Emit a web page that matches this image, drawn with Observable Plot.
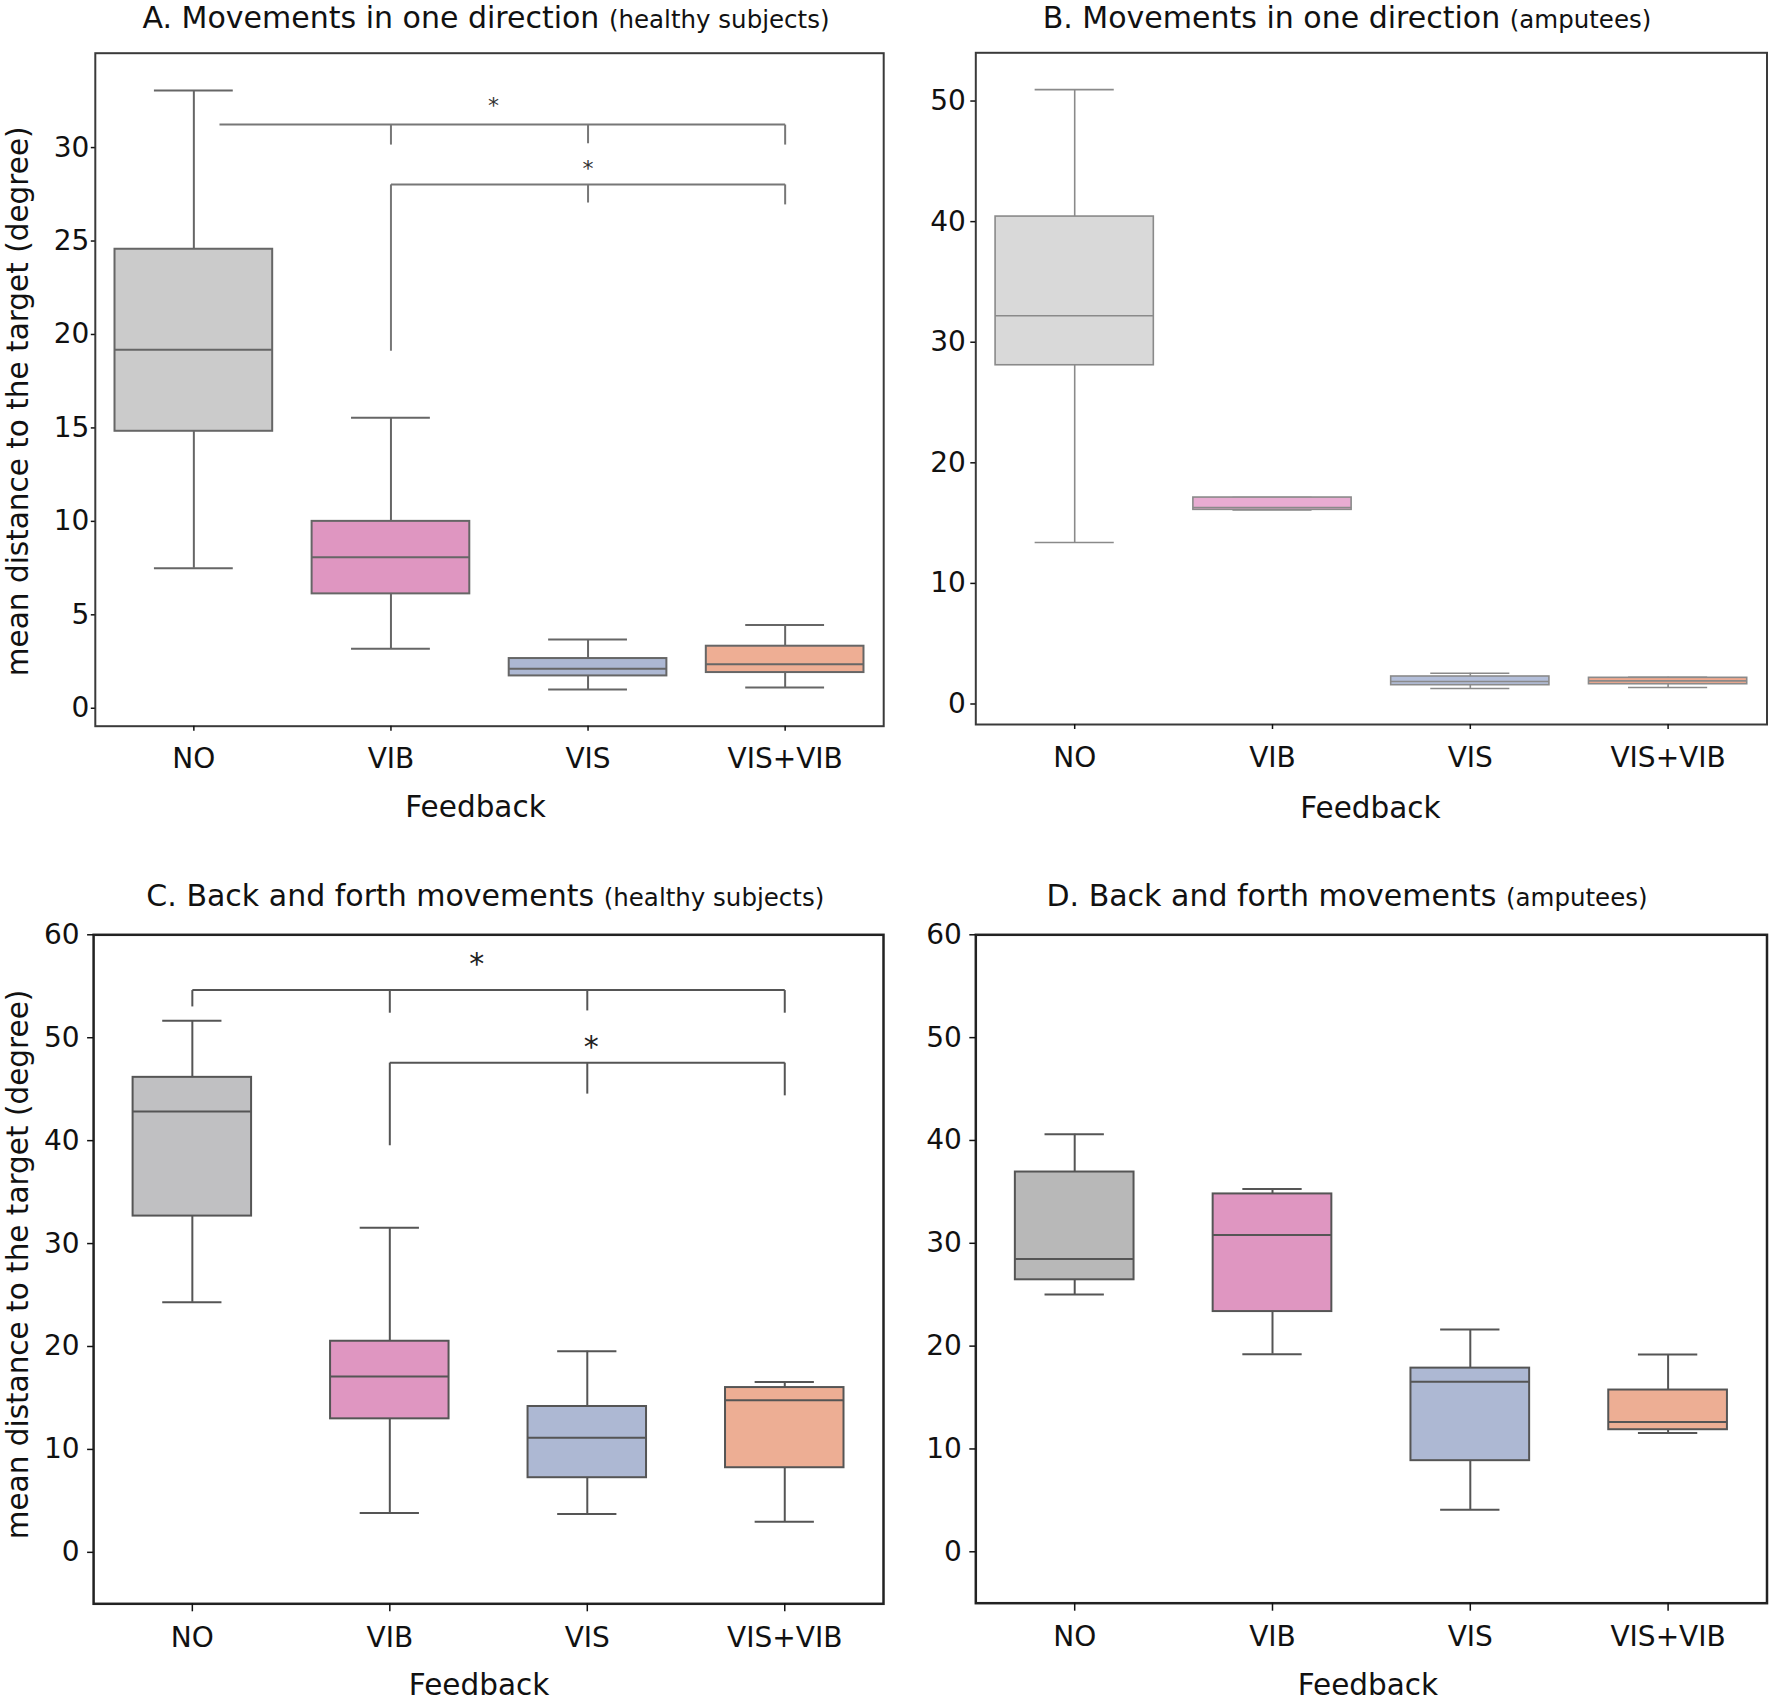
<!DOCTYPE html>
<html><head><meta charset="utf-8">
<script src="https://cdn.jsdelivr.net/npm/d3@7"></script>
<script src="https://cdn.jsdelivr.net/npm/@observablehq/plot@0.6"></script>
<style>
body{margin:0;background:#fff;}
#root{position:relative;width:1770px;height:1701px;background:#fff;overflow:hidden;font-family:"DejaVu Sans",sans-serif;}
.title{position:absolute;white-space:nowrap;text-align:center;width:900px;color:#111;font-family:"DejaVu Sans",sans-serif;font-size:30px;line-height:36px;}
.title .sub{font-size:24.5px;}
</style></head><body><div id="root"></div>
<script>
const categories = ["NO", "VIB", "VIS", "VIS+VIB"];

// Panel A: movements in one direction, healthy subjects
const aLow    = [7.49, 3.18, 1.00, 1.11];
const aQ1     = [14.82, 6.12, 1.73, 1.91];
const aMedian = [19.18, 8.08, 2.12, 2.35];
const aQ3     = [24.56, 10.00, 2.66, 3.32];
const aHigh   = [33.05, 15.54, 3.68, 4.46];
const aTicks  = [0, 5, 10, 15, 20, 25, 30];
const aBrackets = [
  [0.13, 31.23, 3, 31.23], [1, 31.23, 1, 30.16], [2, 31.23, 2, 30.23], [3, 31.23, 3, 30.16],
  [1, 28.03, 3, 28.03], [1, 28.03, 1, 19.13], [2, 28.03, 2, 27.06], [3, 28.03, 3, 26.96]
];
const aStars = [[1.52, 32.4], [2.0, 29.0]];

// Panel B: movements in one direction, amputees
const bLow    = [13.39, 16.10, 1.29, 1.37];
const bQ1     = [28.09, 16.10, 1.56, 1.64];
const bMedian = [32.19, 16.29, 1.87, 1.92];
const bQ3     = [40.42, 17.12, 2.28, 2.17];
const bHigh   = [50.95, 17.12, 2.55, 2.22];
const bTicks  = [0, 10, 20, 30, 40, 50];

// Panel C: back and forth movements, healthy subjects
const cLow    = [24.29, 3.82, 3.72, 2.98];
const cQ1     = [32.67, 12.97, 7.25, 8.22];
const cMedian = [42.82, 17.08, 11.13, 14.78];
const cQ3     = [46.15, 20.51, 14.17, 16.01];
const cHigh   = [51.65, 31.53, 19.54, 16.56];
const cTicks  = [0, 10, 20, 30, 40, 50, 60];
const cBrackets = [
  [0, 54.63, 3, 54.63], [0, 54.63, 0, 53.04], [1, 54.63, 1, 52.43], [2, 54.63, 2, 52.65], [3, 54.63, 3, 52.43],
  [1, 47.58, 3, 47.58], [1, 47.58, 1, 39.55], [2, 47.58, 2, 44.57], [3, 47.58, 3, 44.4]
];
const cStars = [[1.44, 57.5], [2.02, 49.48]];

// Panel D: back and forth movements, amputees
const dLow    = [25.02, 19.22, 4.08, 11.55];
const dQ1     = [26.45, 23.36, 8.86, 11.87];
const dMedian = [28.47, 30.80, 16.53, 12.62];
const dQ3     = [36.93, 34.80, 17.86, 15.73];
const dHigh   = [40.60, 35.28, 21.61, 19.18];
const dTicks  = [0, 10, 20, 30, 40, 50, 60];

const xLabel = "Feedback";
const yLabel = "mean distance to the target (degree)";
const titles = [
  ["A. Movements in one direction", "(healthy subjects)"],
  ["B. Movements in one direction", "(amputees)"],
  ["C. Back and forth movements", "(healthy subjects)"],
  ["D. Back and forth movements", "(amputees)"]
];

const fillsA = ["#cbcbcb", "#df96c1", "#adb8d3", "#eeae94"];
const fillsB = ["#d9d9d9", "#e8acd2", "#b3bed9", "#eea98f"];
const fillsC = ["#c0c0c2", "#df96c1", "#adb8d3", "#edae94"];
const fillsD = ["#b8b8b8", "#df96c1", "#adb8d3", "#edae94"];

const root = document.getElementById("root");

function addTitle(t, cx, baseline) {
  const div = document.createElement("div");
  div.className = "title";
  div.style.left = (cx - 450) + "px";
  div.style.top = (baseline - 28.4) + "px";
  const m = document.createElement("span");
  m.textContent = t[0] + " ";
  const s = document.createElement("span");
  s.className = "sub";
  s.textContent = t[1];
  div.append(m, s);
  root.append(div);
}

function panel(cfg) {
  const rows = categories.map((c, i) => ({
    i, cat: c, low: cfg.low[i], q1: cfg.q1[i], med: cfg.med[i], q3: cfg.q3[i], high: cfg.high[i], fill: cfg.fills[i]
  }));
  const bw = cfg.boxWidth, cw = cfg.boxWidth / 2;
  const lineStyle = {stroke: cfg.edge, strokeWidth: cfg.lw};
  const marks = [
    Plot.ruleX(rows, {x: "i", y1: "q3", y2: "high", ...lineStyle}),
    Plot.ruleX(rows, {x: "i", y1: "low", y2: "q1", ...lineStyle}),
    Plot.ruleY(rows, {y: "high", x1: d => d.i - cw / 2, x2: d => d.i + cw / 2, ...lineStyle}),
    Plot.ruleY(rows, {y: "low", x1: d => d.i - cw / 2, x2: d => d.i + cw / 2, ...lineStyle}),
    Plot.rect(rows, {x1: d => d.i - bw / 2, x2: d => d.i + bw / 2, y1: "q1", y2: "q3", fill: "fill", ...lineStyle}),
    Plot.ruleY(rows, {y: "med", x1: d => d.i - bw / 2, x2: d => d.i + bw / 2, ...lineStyle}),
    Plot.frame({stroke: cfg.frame, strokeWidth: cfg.frameWidth}),
    Plot.axisY(cfg.ticks, {tickSize: cfg.yTickSize, tickPadding: cfg.yTickPadding, label: null, fontSize: 28, strokeWidth: 1.5}),
    Plot.axisX([0, 1, 2, 3], {tickFormat: i => categories[i], tickSize: cfg.xTickSize, tickPadding: cfg.xTickPadding, label: null, fontSize: 28, strokeWidth: 1.5}),
    Plot.text([xLabel], {text: d => d, frameAnchor: "bottom", textAnchor: "middle", dx: cfg.xLabelDx, dy: cfg.xLabelDy, fontSize: 29.5, lineAnchor: "middle"})
  ];
  if (cfg.showYLabel) {
    marks.push(Plot.text([yLabel], {text: d => d, frameAnchor: "left", textAnchor: "middle", rotate: -90, dx: cfg.yLabelDx, dy: cfg.yLabelDy, fontSize: 29.5, lineAnchor: "middle"}));
  }
  if (cfg.brackets) {
    marks.push(Plot.link(cfg.brackets, {x1: d => d[0], y1: d => d[1], x2: d => d[2], y2: d => d[3], stroke: cfg.bracketColor, strokeWidth: 2}));
    marks.push(Plot.text(cfg.stars, {x: d => d[0], y: d => d[1], text: () => "*", fontSize: cfg.starSize, dy: 0.13 * cfg.starSize, lineAnchor: "middle", fill: cfg.starColor}));
  }
  const svg = Plot.plot({
    width: cfg.width, height: cfg.height,
    marginLeft: cfg.ml, marginRight: cfg.mr, marginTop: cfg.mt, marginBottom: cfg.mb,
    x: {type: "linear", domain: [-0.5, 3.5]},
    y: {type: "linear", domain: cfg.yDomain},
    color: {type: "identity"},
    style: {fontFamily: "DejaVu Sans, sans-serif", fontSize: "28px", color: "#111", background: "transparent", overflow: "visible"},
    marks
  });
  svg.style.position = "absolute";
  svg.style.left = cfg.left + "px";
  svg.style.top = cfg.top + "px";
  root.append(svg);
}

panel({
  left: 0, top: 0, width: 885, height: 850, ml: 94.8, mr: 1.8, mt: 52.7, mb: 124.3,
  yDomain: [-0.96, 35.05], ticks: aTicks, boxWidth: 0.8,
  low: aLow, q1: aQ1, med: aMedian, q3: aQ3, high: aHigh, fills: fillsA,
  edge: "#666", lw: 2, frame: "#3a3a3a", frameWidth: 2,
  yTickSize: 4, yTickPadding: 2, xTickSize: 5, xTickPadding: 17,
  xLabelDx: -14, xLabelDy: 81, showYLabel: true, yLabelDx: -76.3, yLabelDy: 11.6,
  brackets: aBrackets, stars: aStars, bracketColor: "#777", starColor: "#333", starSize: 22
});
panel({
  left: 885, top: 0, width: 885, height: 850, ml: 90.3, mr: 3.5, mt: 52.3, mb: 126,
  yDomain: [-1.7, 54], ticks: bTicks, boxWidth: 0.8,
  low: bLow, q1: bQ1, med: bMedian, q3: bQ3, high: bHigh, fills: fillsB,
  edge: "#8a8a8a", lw: 1.6, frame: "#3a3a3a", frameWidth: 2,
  yTickSize: 5, yTickPadding: 5, xTickSize: 5, xTickPadding: 18,
  xLabelDx: -1, xLabelDy: 84, showYLabel: false
});
panel({
  left: 0, top: 850, width: 885, height: 851, ml: 93.1, mr: 2, mt: 84.3, mb: 97.7,
  yDomain: [-5, 60], ticks: cTicks, boxWidth: 0.6,
  low: cLow, q1: cQ1, med: cMedian, q3: cQ3, high: cHigh, fills: fillsC,
  edge: "#555", lw: 2, frame: "#222", frameWidth: 2.5,
  yTickSize: 6, yTickPadding: 8, xTickSize: 8, xTickPadding: 15,
  xLabelDx: -9.5, xLabelDy: 81.5, showYLabel: true, yLabelDx: -74.6, yLabelDy: -4.8,
  brackets: cBrackets, stars: cStars, bracketColor: "#555", starColor: "#222", starSize: 30
});
panel({
  left: 885, top: 850, width: 885, height: 851, ml: 90.3, mr: 3.5, mt: 84.3, mb: 98.3,
  yDomain: [-5, 60], ticks: dTicks, boxWidth: 0.6,
  low: dLow, q1: dQ1, med: dMedian, q3: dQ3, high: dHigh, fills: fillsD,
  edge: "#555", lw: 2, frame: "#222", frameWidth: 2.5,
  yTickSize: 6, yTickPadding: 8, xTickSize: 8, xTickPadding: 15,
  xLabelDx: -3.5, xLabelDy: 82, showYLabel: false
});

addTitle(titles[0], 486, 28.3);
addTitle(titles[1], 1347, 28.3);
addTitle(titles[2], 485.3, 906.7);
addTitle(titles[3], 1347, 906.7);
</script></body></html>
